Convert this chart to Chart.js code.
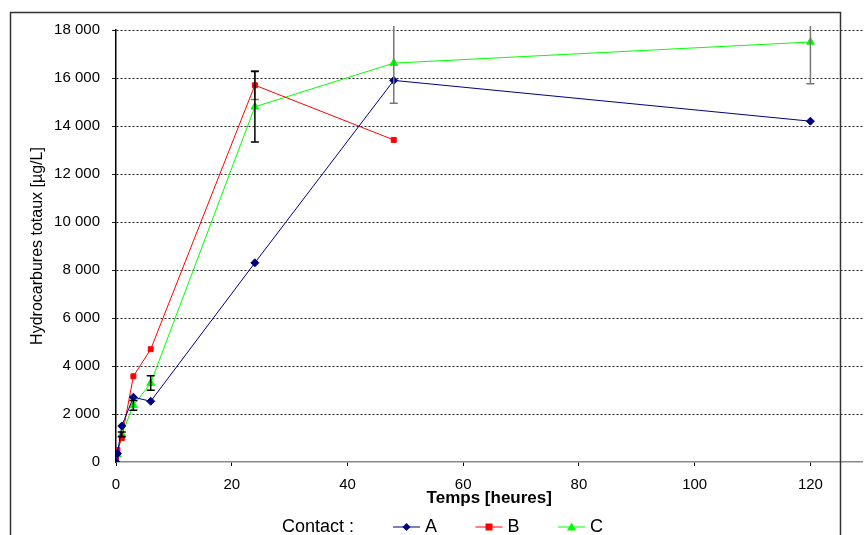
<!DOCTYPE html>
<html>
<head>
<meta charset="utf-8">
<script src="https://cdn.jsdelivr.net/npm/chart.js@4"></script>
<style>
  html, body { margin: 0; padding: 0; background: #fff; overflow: hidden; }
</style>
</head>
<body>
<canvas id="hcChart" width="868" height="535"></canvas>
<script>
// Temps de contact (heures) et hydrocarbures totaux (µg/L)
var tempsA = [0, 0.25, 1, 3, 6, 24, 48, 120];
var valA = [0, 350, 1500, 2700, 2530, 8300, 15900, 14200];

var tempsB = [0, 0.25, 1, 3, 6, 24, 48];
var valB = [100, 500, 1000, 3570, 4700, 15700, 13420];
var errB = [0, 0, 0, 0, 0, 600, 0];

var tempsC = [0, 0.25, 1, 3, 6, 24, 48, 120];
var valC = [50, 300, 1150, 2360, 3290, 14800, 16620, 17500];
var errC = [0, 0, 100, 200, 300, 1470, 1670, 1735];

var yTicks = { min: 0, max: 18000, step: 2000 };
var xTicks = { min: 0, max: 129, step: 20 };

function pts(xs, ys) {
    return xs.map((x, i) => ({ x: x, y: ys[i] }));
}

function fmtMilliers(v) {
    return String(v).replace(/\B(?=(\d{3})+(?!\d))/g, ' ');
}

// barres d'erreur verticales, dessinées par-dessus les courbes
var errorBars = {
    id: 'errorBars',
    afterDatasetsDraw(chart) {
        var ctx = chart.ctx;
        var xs = chart.scales.x, ys = chart.scales.y;
        var topClip = chart.chartArea.top - 4;
        ctx.save();
        ctx.lineWidth = 1.5;
        chart.data.datasets.forEach(ds => {
            if (!ds.errors) return;
            ds.data.forEach((p, i) => {
                var e = ds.errors[i];
                if (!e) return;
                var px = xs.getPixelForValue(p.x);
                var y1 = Math.max(ys.getPixelForValue(p.y + e), topClip);
                var y2 = ys.getPixelForValue(p.y - e);
                ctx.strokeStyle = ds.errorColors ? ds.errorColors[i] : '#000';
                ctx.beginPath();
                ctx.moveTo(px, y1); ctx.lineTo(px, y2);
                ctx.moveTo(px - 4, y2); ctx.lineTo(px + 4, y2);
                if (y1 > topClip) { ctx.moveTo(px - 4, y1); ctx.lineTo(px + 4, y1); }
                ctx.stroke();
            });
        });
        ctx.restore();
    }
};

function drawMarker(ctx, style, x, y, color) {
    ctx.fillStyle = color;
    ctx.beginPath();
    if (style === 'rectRot') {
        ctx.moveTo(x, y - 4); ctx.lineTo(x + 4, y); ctx.lineTo(x, y + 4); ctx.lineTo(x - 4, y);
    } else if (style === 'rect') {
        ctx.rect(x - 3.5, y - 3.5, 7, 7);
    } else {
        ctx.moveTo(x, y - 4.5); ctx.lineTo(x + 4.5, y + 3.5); ctx.lineTo(x - 4.5, y + 3.5);
    }
    ctx.closePath();
    ctx.fill();
}

// cadre et légende "Contact :"
var cadreLegende = {
    id: 'cadreLegende',
    afterDraw(chart) {
        var ctx = chart.ctx;
        ctx.save();
        ctx.strokeStyle = '#333';
        ctx.lineWidth = 1.5;
        ctx.strokeRect(10.5, 12.5, 830, 600);

        var ly = 527;
        ctx.font = '18px "Liberation Sans", Arial, sans-serif';
        ctx.fillStyle = '#000';
        ctx.textBaseline = 'middle';
        ctx.fillText('Contact :', 282, ly);
        chart.data.datasets.forEach((ds, i) => {
            var x0 = 393 + i * 82.5;
            ctx.strokeStyle = ds.borderColor;
            ctx.lineWidth = 1;
            ctx.beginPath();
            ctx.moveTo(x0, ly); ctx.lineTo(x0 + 27, ly);
            ctx.stroke();
            drawMarker(ctx, ds.pointStyle, x0 + 13.5, ly, ds.borderColor);
            ctx.fillStyle = '#000';
            ctx.fillText(ds.label, x0 + 32, ly);
        });
        ctx.restore();
    }
};

var ctx = document.getElementById('hcChart').getContext('2d');
var hcChart = new Chart(ctx, {
    type: 'scatter',
    data: {
        datasets: [
            {
                label: 'A',
                data: pts(tempsA, valA),
                borderColor: '#000080',
                backgroundColor: '#000080',
                pointStyle: 'rectRot',
                pointRadius: 4,
                showLine: true,
                borderWidth: 1
            },
            {
                label: 'B',
                data: pts(tempsB, valB),
                errors: errB,
                errorColors: errB.map(() => '#777'),
                borderColor: '#ff0000',
                backgroundColor: '#ff0000',
                pointStyle: 'rect',
                pointRadius: 3.5,
                showLine: true,
                borderWidth: 1
            },
            {
                label: 'C',
                data: pts(tempsC, valC),
                errors: errC,
                errorColors: ['#000', '#000', '#000', '#000', '#000', '#000', '#777', '#777'],
                borderColor: '#00ff00',
                backgroundColor: '#00ff00',
                pointStyle: 'triangle',
                pointRadius: 4.5,
                showLine: true,
                borderWidth: 1
            }
        ]
    },
    options: {
        responsive: false,
        animation: false,
        devicePixelRatio: 1,
        layout: { padding: { left: 24, top: 30, right: 0, bottom: 28.5 } },
        plugins: {
            legend: { display: false },
            tooltip: { enabled: false }
        },
        scales: {
            x: {
                type: 'linear',
                min: xTicks.min,
                max: xTicks.max,
                grid: { drawOnChartArea: false, tickLength: 4, color: '#000' },
                border: { color: '#888', width: 1.5 },
                ticks: {
                    stepSize: xTicks.step,
                    includeBounds: false,
                    maxRotation: 0,
                    padding: 11,
                    color: '#000',
                    font: { family: '"Liberation Sans", Arial, sans-serif', size: 15, lineHeight: 1 }
                },
                title: {
                    display: true,
                    text: 'Temps [heures]',
                    color: '#000',
                    padding: { top: -13.5, bottom: 0 },
                    font: { family: '"Liberation Sans", Arial, sans-serif', size: 17, weight: 'bold', lineHeight: 1 }
                }
            },
            y: {
                min: yTicks.min,
                max: yTicks.max,
                afterFit(scale) { scale.width = 92; },
                grid: {
                    tickLength: 4,
                    color: c => (c.tick && c.tick.value === 0 ? 'rgba(0,0,0,0)' : '#222')
                },
                border: { color: '#000', width: 1.5, dash: [2, 2] },
                ticks: {
                    stepSize: yTicks.step,
                    padding: 12,
                    color: '#000',
                    font: { family: '"Liberation Sans", Arial, sans-serif', size: 15 },
                    callback: v => fmtMilliers(v)
                },
                title: {
                    display: true,
                    text: 'Hydrocarbures totaux [µg/L]',
                    color: '#000',
                    padding: 4,
                    font: { family: '"Liberation Sans", Arial, sans-serif', size: 16 }
                }
            }
        }
    },
    plugins: [errorBars, cadreLegende]
});
</script>
</body>
</html>
